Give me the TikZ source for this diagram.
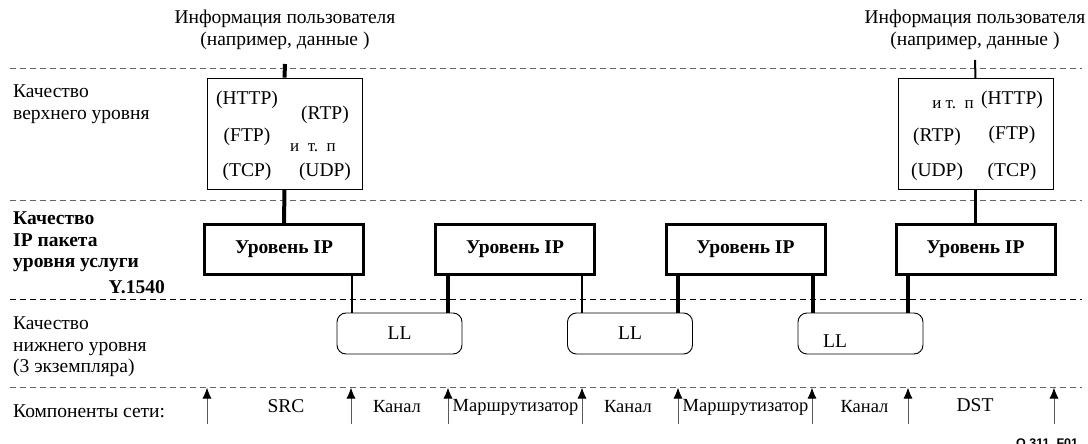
\documentclass[tikz,border=0pt]{standalone}
\usepackage{fontspec}
\setmainfont{Liberation Serif}
\newfontfamily\figidfont{Liberation Sans}
\usetikzlibrary{arrows.meta}

\tikzset{
  sepline/.style={gray!80!black,line width=0.9pt,dash pattern=on 6pt off 4pt},
  rowlabel/.style={anchor=west,align=left,inner sep=0pt,font=\fontsize{19.5}{21.5}\selectfont},
  infotext/.style={align=center,inner sep=0pt,font=\fontsize{19.5}{22}\selectfont},
  protobox/.style={draw,line width=0.8pt,minimum width=155pt,minimum height=111pt},
  proto/.style={inner sep=0pt,font=\fontsize{19.5}{22}\selectfont},
  etc/.style={inner sep=0pt,font=\fontsize{17}{20}\selectfont},
  ipbox/.style={draw,line width=3pt,minimum width=159pt,minimum height=50pt,
    font=\bfseries\fontsize{19.5}{22}\selectfont},
  llbox/.style={draw,line width=0.9pt,rounded corners=9pt,minimum width=125pt,
    minimum height=41pt,font=\fontsize{19.5}{22}\selectfont},
  thicklink/.style={line width=4pt},
  thinlink/.style={line width=2.3pt},
  netarrow/.style={-{Latex[length=11pt,width=9pt,black]},gray!70!black,line width=1pt},
  netlabel/.style={inner sep=0pt,font=\fontsize{19.5}{22}\selectfont},
  smalllabel/.style={inner sep=0pt,font=\fontsize{18.5}{20}\selectfont}
}

\begin{document}
\begin{tikzpicture}[x=1pt,y=-1pt]
  \useasboundingbox (0,0) rectangle (1088,444);

  % layer separators
  \draw[sepline] (10,68) -- (1082,68);
  \draw[sepline] (10,200) -- (1082,200);
  \draw[sepline,black] (10,299) -- (1082,299);
  \draw[sepline] (10,387) -- (1082,387);

  % row labels
  \node[rowlabel] (lblupper) at (13,104) {Качество\\верхнего уровня};
  \node[rowlabel,font=\bfseries\fontsize{19.5}{21.5}\selectfont] (lblip) at (13,242)
    {Качество\\IP пакета\\уровня услуги};
  \node[inner sep=0pt,anchor=east,font=\bfseries\fontsize{19.5}{22}\selectfont] (lblref)
    at (165,287) {Y.1540};
  \node[rowlabel] (lbllower) at (13,347) {Качество\\нижнего уровня\\(3 экземпляра)};
  \node[rowlabel] (lblnet) at (13,411) {Компоненты сети:};

  % user information
  \node[infotext] (info1) at (285,30) {Информация пользователя\\(например, данные )};
  \node[infotext] (info2) at (975,30) {Информация пользователя\\(например, данные )};

  % upper layer protocol boxes
  \node[protobox] (up1) at (284.5,133.5) {};
  \node[proto] (http1) at (247,100) {(HTTP)};
  \node[proto] (rtp1) at (325,115) {(RTP)};
  \node[proto] (ftp1) at (247,137) {(FTP)};
  \node[etc] (etc1) at (313,148) {и\enspace т.\enspace п};
  \node[proto] (tcp1) at (247,172) {(TCP)};
  \node[proto] (udp1) at (325,172) {(UDP)};

  \node[protobox] (up2) at (975.5,134) {};
  \node[etc] (etc2) at (953,105) {и т.\enspace п};
  \node[proto] (http2) at (1012,100) {(HTTP)};
  \node[proto] (rtp2) at (937,137) {(RTP)};
  \node[proto] (ftp2) at (1012,135) {(FTP)};
  \node[proto] (udp2) at (937,172) {(UDP)};
  \node[proto] (tcp2) at (1012,172) {(TCP)};

  % IP layer
  \node[ipbox] (ip1) at (284,249.5) {Уровень IP};
  \node[ipbox] (ip2) at (515,249.5) {Уровень IP};
  \node[ipbox] (ip3) at (745.5,249.5) {Уровень IP};
  \node[ipbox] (ip4) at (975.5,249.5) {Уровень IP};

  % lower layer
  \node[llbox] (ll1) at (399.5,333.5) {LL};
  \node[llbox] (ll2) at (630,333.5) {LL};
  \node[llbox] (ll3) at (860.5,333.5) {};
  \node[proto] (ll3text) at (835,341) {LL};

  % vertical links
  \draw[thicklink] (info1.south |- 0,64) -- (up1.north);
  \draw[thicklink] (up1.south) -- (ip1.north);
  \draw[thinlink,line width=2pt] (info2.south |- 0,60) -- (up2.north);
  \draw[thinlink] (up2.south) -- (ip4.north);

  \draw[thinlink] ([xshift=-13pt]ip1.south east) -- ([xshift=-13pt]ip1.south east |- ll1.north);
  \draw[thicklink] ([xshift=14pt]ip2.south west) -- ([xshift=14pt]ip2.south west |- ll1.north);
  \draw[thinlink,line width=2.6pt] ([xshift=-14pt]ip2.south east) -- ([xshift=-14pt]ip2.south east |- ll2.north);
  \draw[thicklink] ([xshift=13.5pt]ip3.south west) -- ([xshift=13.5pt]ip3.south west |- ll2.north);
  \draw[thicklink] ([xshift=-13.5pt]ip3.south east) -- ([xshift=-13.5pt]ip3.south east |- ll3.north);
  \draw[thicklink] ([xshift=13.5pt]ip4.south west) -- ([xshift=13.5pt]ip4.south west |- ll3.north);

  % network components
  \foreach \x in {207,351,448,582,678,812,908,1054}
    \draw[netarrow] (\x,424) -- (\x,387.5);
  \node[netlabel] (src) at (286,406) {SRC};
  \node[smalllabel] (link1) at (397,407) {Канал};
  \node[smalllabel] (router1) at (515.5,407) {Маршрутизатор};
  \node[smalllabel] (link2) at (628,407) {Канал};
  \node[smalllabel] (router2) at (745.5,407) {Маршрутизатор};
  \node[smalllabel] (link3) at (864.5,407) {Канал};
  \node[netlabel] (dst) at (975,405) {DST};

  \node[inner sep=0pt,anchor=base west,font=\figidfont\bfseries\fontsize{12.5}{14}\selectfont]
    (figid) at (1016,447) {Q.311\_F01};
\end{tikzpicture}
\end{document}
